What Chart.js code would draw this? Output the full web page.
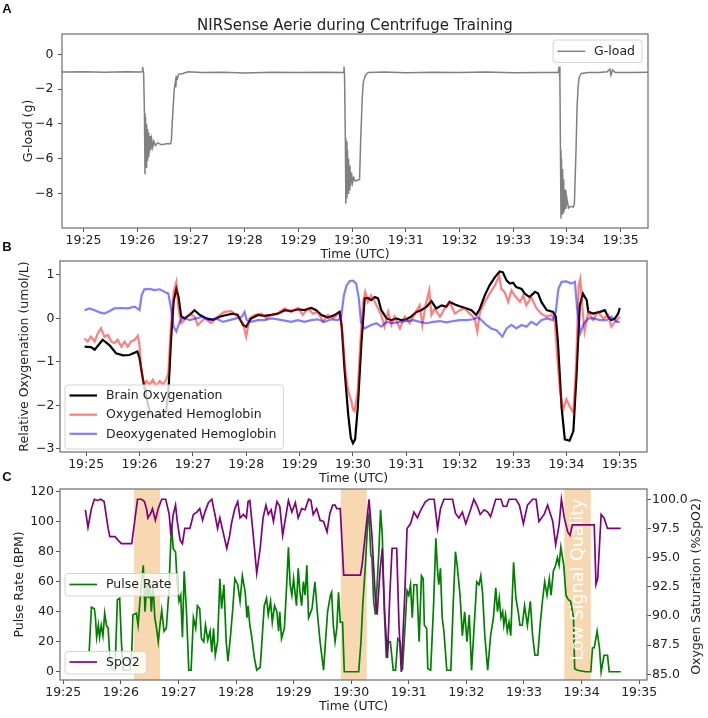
<!DOCTYPE html>
<html><head><meta charset="utf-8">
<script src="https://cdn.jsdelivr.net/npm/chart.js@4.4.0/dist/chart.umd.min.js"></script>
<style>
html,body{margin:0;padding:0;background:#fff;}
#wrap{position:relative;width:708px;height:718px;overflow:hidden;background:#fff;}
canvas{position:absolute;left:0;top:0;}
</style></head><body>
<div id="wrap">
<canvas id="cA" width="708" height="718"></canvas>
<canvas id="cB" width="708" height="718"></canvas>
<canvas id="cC" width="708" height="718"></canvas>
</div>
<script>
// ---------- DATA (time in minutes after 19:00, value) ----------
const xTickValues = [25,26,27,28,29,30,31,32,33,34,35];
const xTickLabels = ['19:25','19:26','19:27','19:28','19:29','19:30','19:31','19:32','19:33','19:34','19:35'];
const yTicksA = [-8,-6,-4,-2,0];
const yLabelsA = ['\u22128','\u22126','\u22124','\u22122','0'];
const yTicksB = [-3,-2,-1,0,1];
const yLabelsB = ['\u22123','\u22122','\u22121','0','1'];
const yTicksC = [0,20,40,60,80,100,120];
const yLabelsC = ['0','20','40','60','80','100','120'];
const y2TicksC = [85,87.5,90,92.5,95,97.5,100];
const y2LabelsC = ['85.0','87.5','90.0','92.5','95.0','97.5','100.0'];
const lowSignalStart = [26.23, 29.82, 33.70];
const lowSignalEnd = [26.68, 30.27, 34.16];

const gload = [[24.60,-1.02],[25.0,-1.0],[25.4,-1.03],[25.8,-1.0],[26.05,-1.02],[26.09,-1.0],[26.10,-0.73],[26.12,-1.1],
[26.135,-3.4],[26.145,-6.9],[26.155,-3.6],[26.165,-6.5],[26.175,-4.0],[26.185,-6.1],[26.195,-4.3],[26.205,-5.9],[26.215,-4.5],
[26.225,-5.7],[26.24,-4.7],[26.255,-5.5],[26.27,-4.9],[26.29,-5.35],[26.31,-5.0],[26.34,-5.25],[26.38,-5.1],[26.45,-5.2],
[26.55,-5.15],[26.62,-5.15],[26.635,-5.0],[26.66,-3.5],[26.69,-2.0],[26.71,-1.6],[26.72,-1.9],[26.73,-1.3],[26.75,-1.4],
[26.77,-1.15],[26.85,-1.1],[26.95,-1.0],[27.2,-1.05],[27.6,-1.03],[28.0,-1.07],[28.5,-1.03],[29.0,-1.05],[29.5,-1.03],
[29.84,-1.05],[29.85,-0.7],[29.86,-1.2],[29.875,-4.8],[29.885,-8.6],[29.895,-5.0],[29.905,-8.3],[29.915,-5.5],[29.925,-8.0],
[29.935,-6.0],[29.945,-7.8],[29.96,-6.4],[29.975,-7.6],[29.99,-6.8],[30.01,-7.4],[30.03,-7.1],[30.06,-7.3],[30.10,-7.25],
[30.14,-7.2],[30.16,-5.0],[30.19,-2.5],[30.21,-1.6],[30.25,-1.2],[30.30,-1.05],[30.6,-1.02],[31.0,-1.06],[31.5,-1.03],
[32.0,-1.05],[32.5,-1.02],[33.0,-1.06],[33.5,-1.04],[33.84,-1.05],[33.855,-0.7],[33.87,-1.5],[33.88,-5.5],[33.89,-9.45],
[33.90,-6.0],[33.91,-9.2],[33.92,-6.6],[33.93,-9.1],[33.94,-7.2],[33.95,-9.0],[33.965,-7.8],[33.98,-8.9],[34.0,-8.3],
[34.03,-8.85],[34.07,-8.75],[34.12,-8.8],[34.14,-8.6],[34.17,-5.5],[34.19,-3.0],[34.21,-1.8],[34.23,-1.3],[34.27,-1.1],
[34.4,-1.05],[34.6,-1.05],[34.75,-1.0],[34.8,-0.85],[34.82,-1.2],[34.85,-0.9],[34.9,-1.05],[35.2,-1.05],[35.51,-1.03]];

const brainOxy = [[24.97,-0.65],[25.09,-0.66],[25.16,-0.72],[25.31,-0.49],[25.44,-0.62],[25.56,-0.80],[25.69,-0.85],[25.81,-0.84],
[25.96,-0.76],[26.00,-0.91],[26.06,-1.37],[26.13,-1.82],[26.19,-2.15],[26.28,-2.25],[26.41,-2.25],[26.50,-2.15],[26.55,-1.5],
[26.59,-0.5],[26.64,0.4],[26.69,0.68],[26.73,0.5],[26.78,0.05],[26.84,0.0],[26.94,0.08],[27.03,0.19],[27.13,0.08],[27.25,0.0],
[27.38,-0.03],[27.50,0.04],[27.63,0.08],[27.75,0.11],[27.84,0.08],[27.94,-0.15],[28.00,-0.19],[28.09,0.0],[28.22,0.08],
[28.34,0.06],[28.47,0.08],[28.59,0.11],[28.72,0.19],[28.84,0.17],[28.97,0.21],[29.09,0.19],[29.22,0.24],[29.31,0.19],
[29.41,0.08],[29.53,0.02],[29.66,0.08],[29.75,0.15],[29.79,-0.2],[29.84,-1.14],[29.91,-2.2],[29.96,-2.75],[30.0,-2.87],
[30.04,-2.78],[30.09,-2.05],[30.16,-0.53],[30.22,0.46],[30.28,0.47],[30.34,0.42],[30.41,0.49],[30.47,0.46],[30.53,0.19],
[30.63,0.0],[30.72,-0.04],[30.81,0.0],[30.91,-0.04],[31.00,-0.02],[31.09,0.04],[31.19,0.15],[31.28,0.19],[31.38,0.27],
[31.47,0.40],[31.56,0.23],[31.66,0.30],[31.75,0.27],[31.81,0.38],[31.91,0.32],[32.00,0.28],[32.13,0.23],[32.22,0.19],
[32.31,0.08],[32.38,0.23],[32.47,0.53],[32.56,0.76],[32.66,0.95],[32.75,1.08],[32.81,1.06],[32.88,0.87],[32.94,0.80],
[33.00,0.82],[33.06,0.72],[33.16,0.68],[33.22,0.57],[33.31,0.49],[33.41,0.61],[33.47,0.57],[33.53,0.38],[33.63,0.19],
[33.75,0.15],[33.80,0.04],[33.84,-0.53],[33.91,-2.05],[33.97,-2.78],[34.06,-2.81],[34.13,-2.59],[34.19,-1.29],[34.25,0.30],
[34.31,0.57],[34.38,0.42],[34.41,0.15],[34.50,0.11],[34.63,0.15],[34.72,0.19],[34.78,0.04],[34.84,-0.04],[34.91,0.0],
[34.97,0.11],[35.00,0.24]];

const oxyHb = [[24.97,-0.46],[25.03,-0.53],[25.09,-0.42],[25.16,-0.53],[25.22,-0.34],[25.28,-0.23],[25.34,-0.42],[25.41,-0.38],
[25.47,-0.53],[25.53,-0.57],[25.59,-0.49],[25.66,-0.65],[25.72,-0.53],[25.78,-0.65],[25.84,-0.53],[25.91,-0.49],[25.97,-0.40],
[26.00,-0.62],[26.03,-1.14],[26.08,-1.56],[26.13,-1.44],[26.19,-1.52],[26.25,-1.41],[26.31,-1.56],[26.38,-1.44],[26.44,-1.52],
[26.50,-1.41],[26.54,-1.25],[26.59,-0.15],[26.64,0.61],[26.69,0.84],[26.73,0.23],[26.78,-0.11],[26.84,-0.04],[26.94,0.11],
[27.03,0.04],[27.09,-0.15],[27.22,0.0],[27.34,-0.11],[27.47,0.04],[27.59,0.15],[27.72,0.17],[27.84,0.04],[27.94,-0.11],
[28.00,-0.42],[28.06,0.0],[28.16,0.08],[28.28,0.11],[28.38,0.0],[28.47,0.08],[28.59,0.11],[28.72,0.23],[28.84,0.15],
[28.97,0.24],[29.06,0.08],[29.16,0.23],[29.25,0.11],[29.34,0.15],[29.44,-0.08],[29.53,0.08],[29.63,0.0],[29.72,0.11],
[29.77,0.08],[29.81,-0.46],[29.86,-1.22],[29.91,-1.67],[29.97,-1.90],[30.0,-2.09],[30.03,-2.13],[30.06,-1.90],[30.09,-1.67],
[30.14,-0.53],[30.19,0.38],[30.23,0.61],[30.28,0.38],[30.34,0.53],[30.41,0.38],[30.47,0.23],[30.53,0.08],[30.59,-0.19],
[30.66,0.15],[30.72,-0.15],[30.78,0.04],[30.88,-0.23],[30.97,0.04],[31.06,-0.11],[31.16,0.11],[31.25,0.30],[31.30,-0.15],
[31.36,0.30],[31.43,0.65],[31.47,0.08],[31.53,0.23],[31.63,0.04],[31.72,0.23],[31.81,0.38],[31.91,0.11],[32.00,0.19],
[32.09,0.23],[32.19,0.11],[32.28,0.0],[32.33,-0.30],[32.38,0.15],[32.47,0.38],[32.56,0.57],[32.66,0.76],[32.74,0.99],
[32.78,0.68],[32.84,0.61],[32.91,0.38],[32.97,0.65],[33.03,0.53],[33.13,0.38],[33.19,0.53],[33.25,0.30],[33.34,0.49],
[33.44,0.23],[33.53,0.11],[33.63,0.04],[33.72,0.08],[33.78,-0.04],[33.83,-0.91],[33.88,-1.67],[33.94,-2.09],[34.00,-1.86],
[34.06,-2.02],[34.13,-2.17],[34.18,-1.14],[34.23,0.76],[34.26,0.91],[34.30,0.23],[34.34,-0.30],[34.41,0.15],[34.50,-0.04],
[34.59,0.15],[34.69,0.0],[34.78,0.08],[34.84,-0.19],[34.91,-0.08],[35.00,0.04]];

const deoxyHb = [[24.97,0.19],[25.06,0.23],[25.16,0.19],[25.25,0.14],[25.34,0.11],[25.44,0.17],[25.53,0.23],[25.66,0.24],
[25.78,0.23],[25.91,0.27],[26.00,0.19],[26.04,0.53],[26.09,0.67],[26.19,0.68],[26.28,0.65],[26.38,0.67],[26.47,0.61],
[26.54,0.57],[26.59,0.23],[26.64,-0.19],[26.69,-0.30],[26.75,-0.08],[26.81,0.02],[26.94,-0.04],[27.06,0.0],[27.19,0.04],
[27.31,-0.04],[27.44,0.0],[27.56,-0.08],[27.69,-0.04],[27.81,0.0],[27.92,0.04],[27.97,0.15],[28.01,-0.04],[28.09,-0.08],
[28.22,-0.04],[28.34,-0.04],[28.47,0.0],[28.59,-0.02],[28.72,-0.05],[28.84,-0.08],[28.97,-0.04],[29.09,-0.08],[29.22,-0.04],
[29.34,-0.02],[29.47,-0.08],[29.59,-0.02],[29.72,-0.04],[29.78,0.04],[29.83,0.53],[29.88,0.76],[29.94,0.86],[30.0,0.87],
[30.06,0.80],[30.11,0.46],[30.15,-0.08],[30.21,-0.23],[30.34,-0.15],[30.44,-0.11],[30.53,-0.19],[30.63,-0.08],[30.75,-0.11],
[30.88,-0.08],[31.00,-0.06],[31.13,-0.04],[31.25,-0.08],[31.38,-0.11],[31.50,-0.08],[31.63,-0.06],[31.75,-0.09],[31.88,-0.06],
[32.00,-0.04],[32.13,-0.04],[32.25,-0.02],[32.34,0.02],[32.41,-0.04],[32.50,-0.15],[32.59,-0.23],[32.69,-0.27],[32.80,-0.42],
[32.88,-0.23],[32.97,-0.15],[33.06,-0.23],[33.16,-0.15],[33.25,-0.19],[33.34,-0.08],[33.44,-0.15],[33.53,-0.04],[33.63,0.0],
[33.75,-0.04],[33.80,0.15],[33.85,0.68],[33.91,0.84],[34.00,0.85],[34.09,0.80],[34.16,0.84],[34.20,0.23],[34.26,-0.34],
[34.33,-0.11],[34.41,0.0],[34.50,0.0],[34.63,-0.04],[34.75,-0.04],[34.84,0.04],[34.94,-0.08],[35.00,-0.08]];

const pulseRate = [[25.45,13],[25.49,43],[25.54,42],[25.56,36],[25.58,23],[25.61,31],[25.63,23],[25.66,31],[25.69,24],[25.72,39],
[25.75,31],[25.78,29],[25.81,9],[25.84,2],[25.90,1],[25.94,48],[25.98,49],[26.01,20],[26.04,1],[26.16,1],[26.19,13],[26.21,38],
[26.27,39],[26.30,31],[26.35,56],[26.39,71],[26.42,40],[26.45,58],[26.48,49],[26.50,62],[26.53,40],[26.56,58],[26.59,36],
[26.62,29],[26.65,20],[26.68,31],[26.71,41],[26.75,27],[26.79,29],[26.83,51],[26.88,98],[26.91,82],[26.95,80],[26.98,58],
[27.01,47],[27.04,51],[27.07,23],[27.10,67],[27.14,40],[27.18,1],[27.22,1],[27.26,36],[27.30,29],[27.33,44],[27.37,42],
[27.40,22],[27.44,20],[27.47,31],[27.51,21],[27.55,27],[27.58,13],[27.61,29],[27.64,11],[27.68,20],[27.72,62],[27.75,42],
[27.79,58],[27.83,20],[27.86,7],[27.90,22],[27.94,40],[27.98,62],[28.03,58],[28.07,47],[28.11,64],[28.16,53],[28.19,36],
[28.21,44],[28.24,31],[28.27,24],[28.32,9],[28.36,1],[28.42,3],[28.45,20],[28.49,44],[28.53,49],[28.56,38],[28.60,47],
[28.63,33],[28.67,44],[28.71,40],[28.74,27],[28.76,40],[28.79,22],[28.84,29],[28.88,58],[28.91,83],[28.94,58],[28.97,51],
[29.00,62],[29.03,51],[29.05,44],[29.08,69],[29.11,53],[29.14,44],[29.17,60],[29.20,51],[29.23,71],[29.26,36],[29.32,42],
[29.37,60],[29.42,36],[29.46,20],[29.52,1],[29.55,18],[29.59,40],[29.64,51],[29.66,53],[29.69,31],[29.72,20],[29.75,29],
[29.78,53],[29.81,33],[29.85,33],[29.88,0],[30.13,0],[30.17,20],[30.20,44],[30.25,73],[30.29,102],[30.31,105],[30.34,78],
[30.36,76],[30.39,47],[30.42,38],[30.45,58],[30.48,80],[30.51,108],[30.54,91],[30.56,58],[30.58,36],[30.61,9],[30.65,20],
[30.68,20],[30.73,1],[30.77,1],[30.81,22],[30.85,20],[30.89,1],[30.93,27],[30.97,54],[31.00,51],[31.03,58],[31.06,36],
[31.09,58],[31.14,58],[31.18,20],[31.22,64],[31.25,62],[31.27,31],[31.31,29],[31.33,2],[31.38,1],[31.43,44],[31.47,89],
[31.50,67],[31.52,58],[31.55,69],[31.58,36],[31.61,27],[31.66,1],[31.73,1],[31.77,44],[31.81,80],[31.84,71],[31.89,51],
[31.93,24],[31.97,40],[32.01,20],[32.05,38],[32.09,1],[32.13,27],[32.18,60],[32.22,58],[32.25,64],[32.28,53],[32.32,24],
[32.37,1],[32.42,24],[32.47,36],[32.51,56],[32.54,40],[32.57,49],[32.60,36],[32.63,40],[32.65,31],[32.68,38],[32.71,27],
[32.74,33],[32.77,24],[32.82,73],[32.86,49],[32.90,40],[32.93,31],[32.97,31],[33.01,44],[33.06,31],[33.11,47],[33.15,24],
[33.19,11],[33.24,11],[33.28,31],[33.32,47],[33.36,60],[33.40,51],[33.44,62],[33.47,51],[33.51,67],[33.55,71],[33.58,76],
[33.61,71],[33.64,83],[33.69,71],[33.73,51],[33.77,48],[33.81,47],[33.86,36],[33.88,2],[33.93,1],[34.07,0],[34.16,0],
[34.19,16],[34.22,16],[34.27,27],[34.31,16],[34.34,0],[34.39,11],[34.45,11],[34.48,0],[34.68,0]];

const spo2 = [[25.385,99.1],[25.43,97.6],[25.49,99.2],[25.54,100.0],[25.59,99.9],[25.65,100.0],[25.71,99.8],[25.78,97.5],
[25.81,96.8],[25.90,96.8],[25.95,96.5],[26.01,96.2],[26.19,96.2],[26.24,98.1],[26.29,100.0],[26.36,100.0],[26.41,99.8],
[26.45,99.1],[26.47,98.4],[26.52,98.8],[26.55,99.2],[26.60,98.2],[26.65,99.2],[26.71,100.0],[26.78,100.0],[26.84,98.7],
[26.87,96.9],[26.91,98.7],[26.95,99.5],[26.98,98.1],[27.03,96.5],[27.07,96.2],[27.11,97.5],[27.20,97.5],[27.26,98.7],
[27.32,98.9],[27.37,99.2],[27.42,98.2],[27.46,98.9],[27.52,99.7],[27.58,100.0],[27.63,98.8],[27.68,97.5],[27.72,98.4],
[27.78,97.1],[27.84,95.8],[27.89,96.9],[27.92,97.9],[27.98,99.2],[28.03,99.8],[28.07,98.4],[28.13,98.7],[28.18,98.4],
[28.21,99.8],[28.24,99.9],[28.30,96.9],[28.36,93.65],[28.42,95.8],[28.47,98.4],[28.52,99.5],[28.56,98.7],[28.61,99.1],
[28.65,98.1],[28.71,99.8],[28.76,99.4],[28.81,96.9],[28.85,98.1],[28.91,99.9],[28.97,98.9],[29.03,99.7],[29.08,98.4],
[29.14,99.2],[29.20,99.1],[29.26,100.0],[29.30,99.9],[29.34,98.7],[29.40,99.2],[29.46,98.2],[29.52,98.1],[29.58,97.2],
[29.63,98.8],[29.68,99.5],[29.72,99.5],[29.75,99.2],[29.81,99.2],[29.87,93.5],[30.16,93.5],[30.19,94.4],[30.25,97.2],
[30.31,100.0],[30.36,96.9],[30.42,91.5],[30.45,90.1],[30.50,93.8],[30.54,95.8],[30.58,90.4],[30.63,86.4],[30.67,91.8],
[30.71,95.8],[30.79,95.8],[30.83,89.2],[30.87,85.2],[30.93,91.8],[30.97,97.5],[31.03,97.9],[31.09,98.9],[31.15,98.4],
[31.21,99.1],[31.29,99.8],[31.35,100.0],[31.44,100.0],[31.50,97.5],[31.55,99.2],[31.61,100.0],[31.76,100.0],[31.81,98.8],
[31.87,98.4],[31.93,98.9],[31.99,97.9],[32.08,99.2],[32.13,100.0],[32.19,99.4],[32.24,98.7],[32.31,99.1],[32.37,98.9],
[32.42,98.5],[32.51,100.0],[32.60,100.0],[32.64,99.4],[32.70,99.4],[32.74,100.0],[32.86,100.0],[32.92,99.5],[32.99,97.9],
[33.06,99.5],[33.15,100.0],[33.21,100.0],[33.26,98.1],[33.35,98.7],[33.41,99.5],[33.50,98.1],[33.55,96.1],[33.61,97.8],
[33.65,100.0],[33.70,98.4],[33.76,97.2],[33.80,96.9],[33.84,97.8],[34.22,97.8],[34.25,92.7],[34.28,93.2],[34.34,98.7],
[34.39,98.4],[34.45,97.5],[34.68,97.5]];

// ---------- STYLE ----------
const FONT = "'DejaVu Sans', 'Noto Sans', sans-serif";
const FS = 12.5;
const INK = '#222222';
const FRAME = '#777777';
Chart.defaults.font.family = FONT;
Chart.defaults.font.size = FS;
Chart.defaults.color = INK;

const pts = arr => arr.map(p => ({x: p[0], y: p[1]}));

function xScale(min, max) {
  return {
    type: 'linear', min, max,
    afterBuildTicks: s => { s.ticks = xTickValues.map(v => ({value: v})); },
    afterFit: s => { s.height = 34; },
    ticks: { callback: (v, i) => xTickLabels[i], autoSkip: false, maxRotation: 0, minRotation: 0, padding: 1, color: INK, font: {family: FONT, size: FS} },
    grid: { display: true, drawOnChartArea: false, drawTicks: true, tickLength: 4, color: '#555', lineWidth: 1 },
    border: { display: false },
    title: { display: true, text: 'Time (UTC)', color: INK, font: {family: FONT, size: FS}, padding: {top: 0, bottom: 0} }
  };
}
function yScale(min, max, tickVals, tickLabels, width, pad, title, titlePad, position) {
  return {
    type: 'linear', position: position || 'left', min, max,
    afterBuildTicks: s => { s.ticks = tickVals.map(v => ({value: v})); },
    afterFit: s => { s.width = width; },
    ticks: { callback: (v, i) => tickLabels[i], autoSkip: false, padding: pad, color: INK, font: {family: FONT, size: FS} },
    grid: { display: true, drawOnChartArea: false, drawTicks: true, tickLength: 4, color: '#555', lineWidth: 1 },
    border: { display: false },
    title: { display: !!title, text: title || '', color: INK, font: {family: FONT, size: FS}, padding: {top: titlePad, bottom: 0} }
  };
}

function roundRect(ctx, x, y, w, h, r) {
  ctx.beginPath();
  ctx.moveTo(x + r, y); ctx.lineTo(x + w - r, y); ctx.arcTo(x + w, y, x + w, y + r, r);
  ctx.lineTo(x + w, y + h - r); ctx.arcTo(x + w, y + h, x + w - r, y + h, r);
  ctx.lineTo(x + r, y + h); ctx.arcTo(x, y + h, x, y + h - r, r);
  ctx.lineTo(x, y + r); ctx.arcTo(x, y, x + r, y, r); ctx.closePath();
}
function legendWidth(ctx, datasets) {
  ctx.save(); ctx.font = FS + 'px ' + FONT;
  let tw = 0; datasets.forEach(d => { tw = Math.max(tw, ctx.measureText(d.label).width); });
  ctx.restore();
  return 41 + tw + 7;
}
function drawLegend(ctx, x, y, h, rowYs, datasets) {
  const w = legendWidth(ctx, datasets);
  ctx.save();
  ctx.font = FS + 'px ' + FONT;
  roundRect(ctx, x, y, w, h, 3);
  ctx.fillStyle = 'rgba(255,255,255,0.8)'; ctx.fill();
  ctx.strokeStyle = '#d4d4d4'; ctx.lineWidth = 1; ctx.stroke();
  datasets.forEach((d, i) => {
    const ry = y + rowYs[i];
    ctx.beginPath(); ctx.moveTo(x + 4.5, ry); ctx.lineTo(x + 32, ry);
    ctx.strokeStyle = d.borderColor; ctx.lineWidth = d.borderWidth; ctx.stroke();
    ctx.fillStyle = INK; ctx.textAlign = 'left'; ctx.textBaseline = 'middle';
    ctx.fillText(d.label, x + 41, ry + 0.5);
  });
  ctx.restore();
}
function drawFrame(chart) {
  const a = chart.chartArea, ctx = chart.ctx;
  ctx.save(); ctx.strokeStyle = FRAME; ctx.lineWidth = 1.3;
  ctx.strokeRect(a.left, a.top, a.right - a.left, a.bottom - a.top);
  ctx.restore();
}
function panelLetter(ctx, ch, x, y) {
  ctx.save(); ctx.font = "bold 13px 'Liberation Sans', Arial, sans-serif"; ctx.fillStyle = '#111';
  ctx.textAlign = 'center'; ctx.textBaseline = 'middle'; ctx.fillText(ch, x, y); ctx.restore();
}

const baseOpts = { responsive: false, animation: false, devicePixelRatio: 1, events: [],
  plugins: { legend: {display: false}, tooltip: {enabled: false}, title: {display: false} },
  elements: { point: {radius: 0}, line: {tension: 0} } };

// ---------- PANEL A ----------
new Chart(document.getElementById('cA'), {
  type: 'line',
  data: { datasets: [ { label: 'G-load', data: pts(gload), borderColor: '#808080', borderWidth: 1.5, pointRadius: 0 } ] },
  options: Object.assign({}, baseOpts, {
    layout: { padding: {left: 0, top: 34, right: 60, bottom: 456} },
    scales: { x: xScale(24.60, 35.51), y: yScale(-10.0, 1.17, yTicksA, yLabelsA, 62, 4.5, 'G-load (g)', 20.8) }
  }),
  plugins: [{ id: 'decorA', afterDraw(chart) {
    const ctx = chart.ctx, a = chart.chartArea;
    drawFrame(chart);
    ctx.save(); ctx.font = '15px ' + FONT; ctx.fillStyle = INK; ctx.textAlign = 'center'; ctx.textBaseline = 'middle';
    ctx.fillText('NIRSense Aerie during Centrifuge Training', (a.left + a.right) / 2, a.top - 7.5); ctx.restore();
    panelLetter(ctx, 'A', 7, 9.5);
    const ds = chart.data.datasets;
    const w = legendWidth(ctx, ds);
    drawLegend(ctx, a.right - 6 - w, a.top + 6, 22.5, [11.3], ds);
  } }]
});

// ---------- PANEL B ----------
new Chart(document.getElementById('cB'), {
  type: 'line',
  data: { datasets: [
    { label: 'Brain Oxygenation', data: pts(brainOxy), borderColor: '#000000', borderWidth: 2.2, order: 3 },
    { label: 'Oxygenated Hemoglobin', data: pts(oxyHb), borderColor: 'rgba(255,0,0,0.5)', borderWidth: 2.2, order: 2 },
    { label: 'Deoxygenated Hemoglobin', data: pts(deoxyHb), borderColor: 'rgba(0,0,255,0.5)', borderWidth: 2.2, order: 1 }
  ] },
  options: Object.assign({}, baseOpts, {
    layout: { padding: {left: 0, top: 261, right: 61, bottom: 232} },
    scales: { x: xScale(24.51, 35.51), y: yScale(-3.07, 1.32, yTicksB, yLabelsB, 60, 1.5, 'Relative Oxygenation (umol/L)', 16.8) }
  }),
  plugins: [{ id: 'decorB', afterDraw(chart) {
    const ctx = chart.ctx, a = chart.chartArea;
    drawFrame(chart);
    panelLetter(ctx, 'B', 7, 247.5);
    drawLegend(ctx, a.left + 5, a.bottom - 67, 64, [10.5, 29.7, 48.8], chart.data.datasets);
  } }]
});

// ---------- PANEL C ----------
new Chart(document.getElementById('cC'), {
  type: 'line',
  data: { datasets: [
    { label: 'Pulse Rate', data: pts(pulseRate), borderColor: '#008000', borderWidth: 1.7, yAxisID: 'y', order: 2 },
    { label: 'SpO2', data: pts(spo2), borderColor: '#800080', borderWidth: 1.7, yAxisID: 'y2', order: 1 }
  ] },
  options: Object.assign({}, baseOpts, {
    layout: { padding: {left: 0, top: 489, right: 0, bottom: 4} },
    scales: {
      x: xScale(24.944, 35.136),
      y: yScale(-5.5, 121.8, yTicksC, yLabelsC, 60, 2, 'Pulse Rate (BPM)', 11.8),
      y2: yScale(84.51, 100.88, y2TicksC, y2LabelsC, 61, 1, null, 0, 'right')
    }
  }),
  plugins: [{ id: 'decorC',
    beforeDatasetsDraw(chart) {
      const ctx = chart.ctx, a = chart.chartArea, xs = chart.scales.x;
      ctx.save(); ctx.fillStyle = '#f8d8b0';
      lowSignalStart.forEach((s, i) => {
        const x0 = xs.getPixelForValue(s), x1 = xs.getPixelForValue(lowSignalEnd[i]);
        ctx.fillRect(x0, a.top, x1 - x0, a.bottom - a.top);
      });
      ctx.restore();
    },
    afterDraw(chart) {
      const ctx = chart.ctx, a = chart.chartArea, xs = chart.scales.x;
      const k = lowSignalStart.length - 1;
      const cx = (xs.getPixelForValue(lowSignalStart[k]) + xs.getPixelForValue(lowSignalEnd[k])) / 2;
      ctx.save(); ctx.translate(cx + 1, (a.top + a.bottom) / 2 - 5); ctx.rotate(-Math.PI / 2);
      ctx.font = '17.5px ' + FONT; ctx.fillStyle = '#ffffff'; ctx.textAlign = 'center'; ctx.textBaseline = 'middle';
      ctx.fillText('Low Signal Quality', 0, 0); ctx.restore();
      drawFrame(chart);
      ctx.save(); ctx.translate(a.right + 50, (a.top + a.bottom) / 2 + 2); ctx.rotate(-Math.PI / 2);
      ctx.font = FS + 'px ' + FONT; ctx.fillStyle = INK; ctx.textAlign = 'center'; ctx.textBaseline = 'middle';
      ctx.fillText('Oxygen Saturation (%SpO2)', 0, 0); ctx.restore();
      panelLetter(ctx, 'C', 7, 477.5);
      const ds = chart.data.datasets;
      drawLegend(ctx, a.left + 5, (a.top + a.bottom) / 2 - 11, 22.5, [11], [ds[0]]);
      drawLegend(ctx, a.left + 5, a.bottom - 28.5, 22.5, [10.5], [ds[1]]);
    } }]
});
</script>
</body></html>
